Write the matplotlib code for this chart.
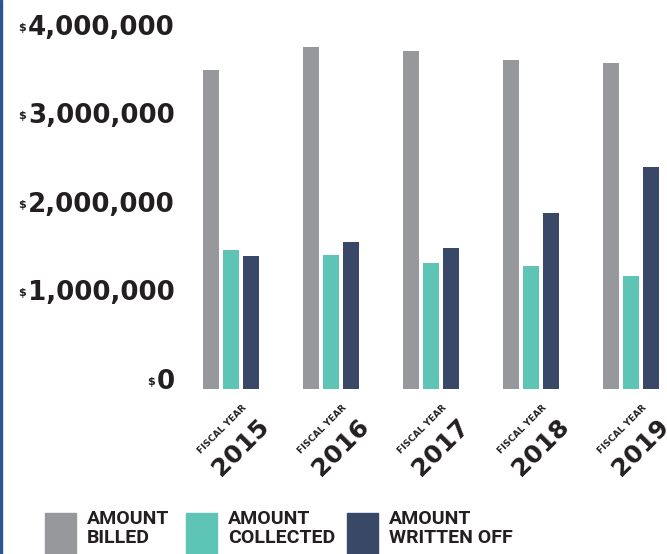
import matplotlib.pyplot as plt
import numpy as np
from matplotlib.patches import Rectangle
from matplotlib.transforms import blended_transform_factory, IdentityTransform

# Data
years = ['2015', '2016', '2017', '2018', '2019']
billed = [3.60e6, 3.86e6, 3.82e6, 3.72e6, 3.68e6]
collected = [1.57e6, 1.51e6, 1.42e6, 1.39e6, 1.28e6]
written_off = [1.50e6, 1.66e6, 1.59e6, 1.99e6, 2.51e6]
series_names = ['AMOUNT\nBILLED', 'AMOUNT\nCOLLECTED', 'AMOUNT\nWRITTEN OFF']
ytick_vals = [0, 1e6, 2e6, 3e6, 4e6]
ytick_labels = ['0', '1,000,000', '2,000,000', '3,000,000', '4,000,000']

c_gray = '#97989c'
c_teal = '#5ec4b5'
c_navy = '#3a4868'
c_text = '#231f20'

W, H = 667, 554
fig = plt.figure(figsize=(W / 100, H / 100), dpi=100)
ax = fig.add_axes([195 / W, 165 / H, 472 / W, 379 / H])

x = np.arange(len(years))
bw = 0.16
ax.bar(x - 0.2, billed, bw, color=c_gray)
ax.bar(x, collected, bw, color=c_teal)
ax.bar(x + 0.2, written_off, bw, color=c_navy)

ax.set_xlim(-0.36, 4.36)
ax.set_ylim(0, 379 / 88.5 * 1e6)
ax.set_xticks([]); ax.set_yticks([])
for s in ax.spines.values():
    s.set_visible(False)

# y labels with superscript dollar sign
tr = blended_transform_factory(fig.transFigure, ax.transData)
renderer = fig.canvas.get_renderer()
for v, lab in zip(ytick_vals, ytick_labels):
    t = ax.text(175 / W, v, lab, transform=tr, ha='right', va='baseline',
                fontsize=18.8, fontweight='bold', color=c_text)
    bb = t.get_window_extent(renderer)
    fig.text(bb.x0 - 2, bb.y0 + 10, '$', transform=IdentityTransform(),
             ha='right', va='baseline', fontsize=8, fontweight='bold', color=c_text)

# x labels: small "FISCAL YEAR" + big year, rotated 45
for i, yr in enumerate(years):
    ax.annotate('FISCAL YEAR', xy=(i, 0), xytext=(-6, -29), textcoords='offset points',
                ha='center', va='center', rotation=45, rotation_mode='anchor',
                fontsize=6.5, fontweight='bold', color=c_text, annotation_clip=False)
    ax.annotate(yr, xy=(i, 0), xytext=(7, -42), textcoords='offset points',
                ha='center', va='center', rotation=45, rotation_mode='anchor',
                fontsize=18, fontweight='bold', color=c_text, annotation_clip=False)

# legend drawn by hand
leg_x = [45, 186, 347]
for lx, col, name in zip(leg_x, [c_gray, c_teal, c_navy], series_names):
    fig.patches.append(Rectangle((lx / W, 0), 31 / W, 41 / H, transform=fig.transFigure,
                                 color=col, zorder=3))
    fig.text((lx + 42) / W, 1 - 510 / H, name, ha='left', va='top', fontsize=14,
             fontweight='bold', color=c_text, linespacing=1.05, family='Roboto')

# blue frame edge on the left
fig.patches.append(Rectangle((0, 0), 2 / W, 1, transform=fig.transFigure,
                             color='#2b5592', zorder=3))

fig.savefig('out.png', dpi=100)
